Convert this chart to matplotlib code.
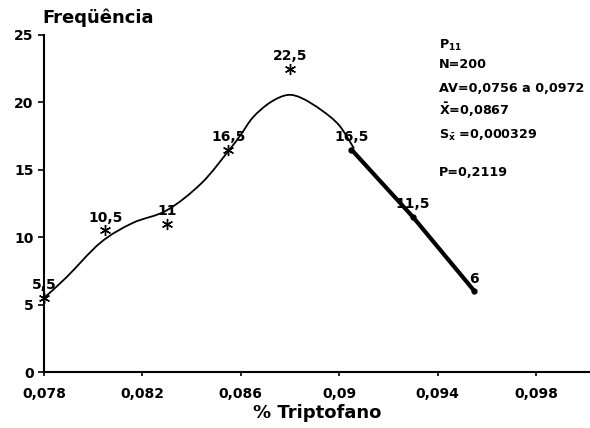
import matplotlib
matplotlib.use("Agg")
import matplotlib.pyplot as plt
from matplotlib.path import Path
from matplotlib.patches import PathPatch

plt.rcParams['font.family'] = ['DejaVu Sans']
plt.rcParams['font.weight'] = 'bold'

# observed points
pt_x = [0.078, 0.0805, 0.083, 0.0855, 0.088, 0.0905, 0.093, 0.0955]
pt_y = [5.5, 10.5, 11.0, 16.5, 22.5, 16.5, 11.5, 6.0]
pt_labels = ["5,5", "10,5", "11", "16,5", "22,5", "16,5", "11,5", "6"]

# smooth fitted curve nodes
curve_x = [0.078, 0.0789, 0.0803, 0.0816, 0.083, 0.0844, 0.0855, 0.0860, 0.0865,
           0.0872, 0.0879, 0.0885, 0.0893, 0.0900, 0.0906]
curve_y = [5.5, 7.0, 9.6, 11.05, 12.0, 14.0, 16.4, 17.6, 18.9,
           20.0, 20.55, 20.3, 19.4, 18.3, 16.6]

# thick straight segment
line_x = [0.0905, 0.093, 0.0955]
line_y = [16.5, 11.5, 6.0]

xticks = [0.078, 0.082, 0.086, 0.090, 0.094, 0.098]
xtick_labels = ["0,078", "0,082", "0,086", "0,09", "0,094", "0,098"]
yticks = [0, 5, 10, 15, 20, 25]

stats = ["P$_{11}$", "N=200", "AV=0,0756 a 0,0972", r"$\mathbf{\bar{X}}$=0,0867",
         r"$\mathbf{S_{\bar{x}}}$ =0,000329", "P=0,2119"]

fig = plt.figure(figsize=(5.9, 4.28), dpi=100)
ax = fig.add_axes([44/590, 1-372/428, 1-44/590, (372-35)/428])
ax.set_xlim(0.078, 0.1002)
ax.set_ylim(0, 25)

# smooth curve via Catmull-Rom -> cubic Bezier path
verts = [(curve_x[0], curve_y[0])]
codes = [Path.MOVETO]
n = len(curve_x)
for i in range(n - 1):
    p0 = (curve_x[max(i-1, 0)], curve_y[max(i-1, 0)])
    p1 = (curve_x[i], curve_y[i])
    p2 = (curve_x[i+1], curve_y[i+1])
    p3 = (curve_x[min(i+2, n-1)], curve_y[min(i+2, n-1)])
    c1 = (p1[0] + (p2[0]-p0[0])/6, p1[1] + (p2[1]-p0[1])/6)
    c2 = (p2[0] - (p3[0]-p1[0])/6, p2[1] - (p3[1]-p1[1])/6)
    verts += [c1, c2, p2]
    codes += [Path.CURVE4]*3
ax.add_patch(PathPatch(Path(verts, codes), facecolor='none', edgecolor='black', lw=1.3))

ax.plot(line_x, line_y, color='black', lw=3.0, solid_capstyle='round')

ax.plot(pt_x[:5], pt_y[:5], linestyle='none', marker=(6, 2, 0), markersize=8,
        color='black', markeredgewidth=1.0, clip_on=False)
ax.plot(pt_x[5:], pt_y[5:], linestyle='none', marker='o', markersize=3.5,
        color='black', clip_on=False)

for x, y, t in zip(pt_x, pt_y, pt_labels):
    ax.annotate(t, (x, y), xytext=(0, 4), textcoords='offset points',
                ha='center', va='bottom', fontsize=10, fontweight='bold')

ax.spines['top'].set_visible(False)
ax.spines['right'].set_visible(False)
ax.spines['left'].set_linewidth(1.5)
ax.spines['bottom'].set_linewidth(1.5)
ax.set_xticks(xticks)
ax.set_xticklabels(xtick_labels)
ax.set_yticks(yticks)
ax.tick_params(axis='x', direction='out', length=3, width=1.2, labelsize=10, pad=8)
ax.tick_params(axis='y', direction='out', length=4, width=1.2, labelsize=10)
for lab in ax.get_xticklabels() + ax.get_yticklabels():
    lab.set_fontweight('bold')

ax.set_xlabel("% Triptofano", fontsize=13, fontweight='bold', labelpad=2)
fig.text(42/590, 1-18/428, "Freqüência", fontsize=13, fontweight='bold',
         ha='left', va='center')

ys = [45, 65, 88, 110, 135, 172]
for yy, s in zip(ys, stats):
    fig.text(439/590, 1-yy/428, s, fontsize=9.2, fontweight='bold',
             ha='left', va='center')

fig.savefig("out.png", dpi=100)
